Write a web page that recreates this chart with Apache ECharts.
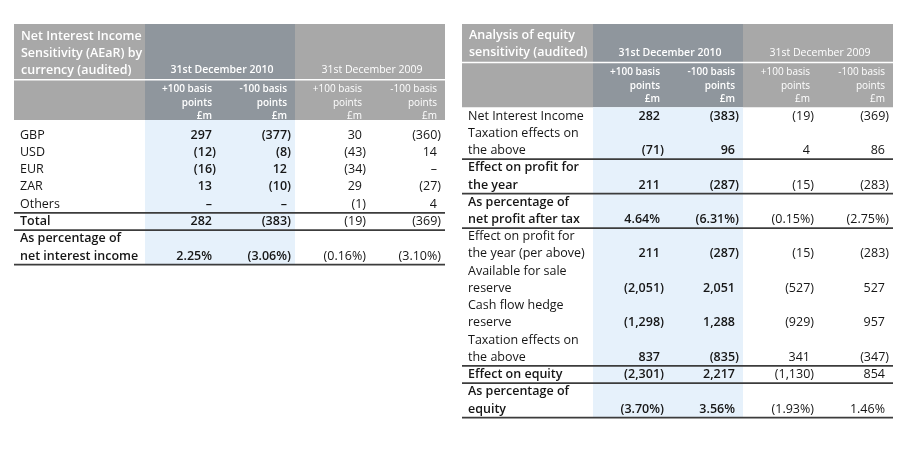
<!DOCTYPE html>
<html><head><meta charset="utf-8">
<script src="https://cdn.jsdelivr.net/npm/echarts@6/dist/echarts.min.js"></script>
<style>html,body{margin:0;padding:0;background:#fff}#c{width:901px;height:449px}</style>
</head><body><div id="c"></div>
<script>
// ================= DATA =================
const columnHeads = ['+100 basis\npoints\n£m', '-100 basis\npoints\n£m', '+100 basis\npoints\n£m', '-100 basis\npoints\n£m'];
const periodHeads = ['31st December 2010', '31st December 2009'];

// Table 1: Net Interest Income Sensitivity (AEaR) by currency
const niiTitle = 'Net Interest Income\nSensitivity (AEaR) by\ncurrency (audited)';
const niiLabels = ['GBP', 'USD', 'EUR', 'ZAR', 'Others', 'Total', 'As percentage of\nnet interest income'];
const niiPlus2010  = [297, -12, -16, 13, null, 282, 2.25];
const niiMinus2010 = [-377, -8, 12, -10, null, -383, -3.06];
const niiPlus2009  = [30, -43, -34, 29, -1, -19, -0.16];
const niiMinus2009 = [-360, 14, null, -27, 4, -369, -3.10];
const niiPercentRows = [6];
const niiBoldRows = [5, 6];
const niiRuleRows = [4, 5, 6];

// Table 2: Analysis of equity sensitivity
const eqTitle = 'Analysis of equity\nsensitivity (audited)';
const eqLabels = ['Net Interest Income', 'Taxation effects on\nthe above', 'Effect on profit for\nthe year',
  'As percentage of\nnet profit after tax', 'Effect on profit for\nthe year (per above)', 'Available for sale\nreserve',
  'Cash flow hedge\nreserve', 'Taxation effects on\nthe above', 'Effect on equity', 'As percentage of\nequity'];
const eqPlus2010  = [282, -71, 211, 4.64, 211, -2051, -1298, 837, -2301, -3.70];
const eqMinus2010 = [-383, 96, -287, -6.31, -287, 2051, 1288, -835, 2217, 3.56];
const eqPlus2009  = [-19, 4, -15, -0.15, -15, -527, -929, 341, -1130, -1.93];
const eqMinus2009 = [-369, 86, -283, -2.75, -283, 527, 957, -347, 854, 1.46];
const eqPercentRows = [3, 9];
const eqBoldRows = [2, 3, 8, 9];
const eqRuleRows = [1, 2, 3, 7, 8, 9];

// ================= STYLE =================
const FONT = '"Open Sans", "Noto Sans", sans-serif';
const GRAY = '#a8a8a8', DARK = '#8f969d', BLUE = '#e6f1fb', INK = '#161616', RULE = '#3c3c3c';
const HANG = 4;

const tables = [
  { title: niiTitle, labels: niiLabels, cols: [niiPlus2010, niiMinus2010, niiPlus2009, niiMinus2009],
    pct: niiPercentRows, bold: niiBoldRows, rules: niiRuleRows,
    L: { x: 14, labelW: 131, colW: 75, top: [24, 79], sub: [80.5, 120], body: [126.4, 264.7], ext: 6.4, subPitch: 13.2 } },
  { title: eqTitle, labels: eqLabels, cols: [eqPlus2010, eqMinus2010, eqPlus2009, eqMinus2009],
    pct: eqPercentRows, bold: eqBoldRows, rules: eqRuleRows,
    L: { x: 462, labelW: 131, colW: 75, top: [24, 61.8], sub: [63.3, 107.2], body: [107.4, 417.6], ext: 0.2, subPitch: 13.4 } }
];

function fmt(v, pct) {
  if (v == null) return '–';
  const a = Math.abs(v);
  let s = pct ? a.toFixed(2) + '%' : String(a).replace(/\B(?=(\d{3})+(?!\d))/g, ',');
  return v < 0 ? '(' + s + ')' : s;
}

const grids = [], xAxes = [], yAxes = [], series = [];

function addGrid(left, top, width, height, nCols, nLines, bgCells, fgCells) {
  const gi = grids.length;
  grids.push({ left, top, width, height, containLabel: false });
  xAxes.push({ type: 'category', gridIndex: gi, show: false, boundaryGap: true,
    data: Array.from({ length: nCols }, (_, i) => 'c' + i) });
  yAxes.push({ type: 'category', gridIndex: gi, show: false, inverse: true, boundaryGap: true,
    data: Array.from({ length: nLines }, (_, i) => 'l' + i) });
  [[bgCells, 1], [fgCells, 2]].forEach(([cells, z]) => {
    series.push({
      type: 'custom', xAxisIndex: gi, yAxisIndex: gi, z, silent: true, clip: false,
      coordinateSystem: 'cartesian2d',
      encode: { x: [0, 2], y: [1, 3] },
      data: cells.map(c => [c.x0, c.y0, c.x1, c.y1]),
      renderItem: (params, api) => renderCell(cells[params.dataIndex], api)
    });
  });
}

function renderCell(c, api) {
  const a = api.coord([c.x0, c.y0]);
  const b = api.coord([c.x1, c.y1]);
  const s = api.size([1, 1]);
  const L = a[0] - s[0] / 2, R = b[0] + s[0] / 2, T = a[1] - s[1] / 2, B = b[1] + s[1] / 2;
  const ch = [];
  if (c.fill) {
    const e = c.ext || 0;
    ch.push({ type: 'rect', shape: { x: L, y: T - e, width: R - L, height: B - T + e }, style: { fill: c.fill } });
  }
  if (c.rule) {
    ch.push({ type: 'line', shape: { x1: L, y1: B, x2: R, y2: B }, style: { stroke: RULE, lineWidth: 1.7 } });
  }
  if (c.text != null) {
    const st = { text: c.text, fill: c.color || INK, font: c.font, lineHeight: c.lh };
    switch (c.mode) {
      case 'label': Object.assign(st, { x: L + 6, y: T, align: 'left', verticalAlign: 'top', lineHeight: s[1] }); break;
      case 'num': Object.assign(st, { x: R - 8 + (c.neg ? HANG : 0), y: B - s[1] / 2, align: 'right', verticalAlign: 'middle' }); break;
      case 'title': Object.assign(st, { x: L + 7, y: B - 0.5, align: 'left', verticalAlign: 'bottom' }); break;
      case 'period': Object.assign(st, { x: (L + R) / 2 + 2, y: B - 9, align: 'center', verticalAlign: 'middle' }); break;
      case 'colhead': Object.assign(st, { x: R - 8, y: T + 9 - c.lh / 2, align: 'right', verticalAlign: 'top' }); break;
    }
    ch.push({ type: 'text', style: st });
  }
  return { type: 'group', children: ch };
}

tables.forEach(t => {
  const Ly = t.L;
  const numX = Ly.x + Ly.labelW, numW = Ly.colW * 4;
  // --- header top band ---
  addGrid(Ly.x, Ly.top[0], Ly.labelW, Ly.top[1] - Ly.top[0], 1, 1,
    [{ x0: 0, y0: 0, x1: 0, y1: 0, fill: GRAY }],
    [{ x0: 0, y0: 0, x1: 0, y1: 0, text: t.title, mode: 'title', color: '#fff', lh: 17, font: '600 12.5px ' + FONT }]);
  addGrid(numX, Ly.top[0], numW, Ly.top[1] - Ly.top[0], 4, 1,
    [0, 1, 2, 3].map(i => ({ x0: i, y0: 0, x1: i, y1: 0, fill: i < 2 ? DARK : GRAY })),
    periodHeads.map((p, k) => ({ x0: 2 * k, y0: 0, x1: 2 * k + 1, y1: 0, text: p, mode: 'period', color: '#fff', lh: 14,
      font: (k === 0 ? '600 ' : '400 ') + '10.5px ' + FONT })));
  // --- header sub band ---
  addGrid(Ly.x, Ly.sub[0], Ly.labelW, Ly.sub[1] - Ly.sub[0], 1, 1,
    [{ x0: 0, y0: 0, x1: 0, y1: 0, fill: GRAY }], []);
  addGrid(numX, Ly.sub[0], numW, Ly.sub[1] - Ly.sub[0], 4, 1,
    [0, 1, 2, 3].map(i => ({ x0: i, y0: 0, x1: i, y1: 0, fill: i < 2 ? DARK : GRAY })),
    columnHeads.map((h, i) => ({ x0: i, y0: 0, x1: i, y1: 0, text: h, mode: 'colhead', color: '#fff', lh: Ly.subPitch,
      font: (i < 2 ? '600 ' : '400 ') + '10px ' + FONT })));
  // --- body ---
  const spans = [];
  let line = 0;
  t.labels.forEach(lb => { const n = lb.split('\n').length; spans.push([line, line + n - 1]); line += n; });
  const nLines = line;
  const labBg = [], labFg = [], numBg = [], numFg = [];
  t.labels.forEach((lb, r) => {
    const [y0, y1] = spans[r];
    const bold = t.bold.includes(r);
    const rule = t.rules.includes(r);
    labFg.push({ x0: 0, y0, x1: 0, y1, text: lb, mode: 'label', rule, font: (bold ? '600 ' : '400 ') + '12.5px ' + FONT });
    t.cols.forEach((arr, ci) => {
      const v = arr[r];
      numFg.push({ x0: ci, y0, x1: ci, y1, text: fmt(v, t.pct.includes(r)), neg: v != null && v < 0, mode: 'num', rule,
        font: (ci < 2 ? '600 ' : '400 ') + '12.5px ' + FONT });
    });
  });
  numBg.push({ x0: 0, y0: 0, x1: 1, y1: nLines - 1, fill: BLUE, ext: Ly.ext });
  addGrid(Ly.x, Ly.body[0], Ly.labelW, Ly.body[1] - Ly.body[0], 1, nLines, labBg, labFg);
  addGrid(numX, Ly.body[0], numW, Ly.body[1] - Ly.body[0], 4, nLines, numBg, numFg);
});

const chart = echarts.init(document.getElementById('c'), null, { renderer: 'canvas' });
chart.setOption({ animation: false, backgroundColor: '#fff', grid: grids, xAxis: xAxes, yAxis: yAxes, series });
</script></body></html>
